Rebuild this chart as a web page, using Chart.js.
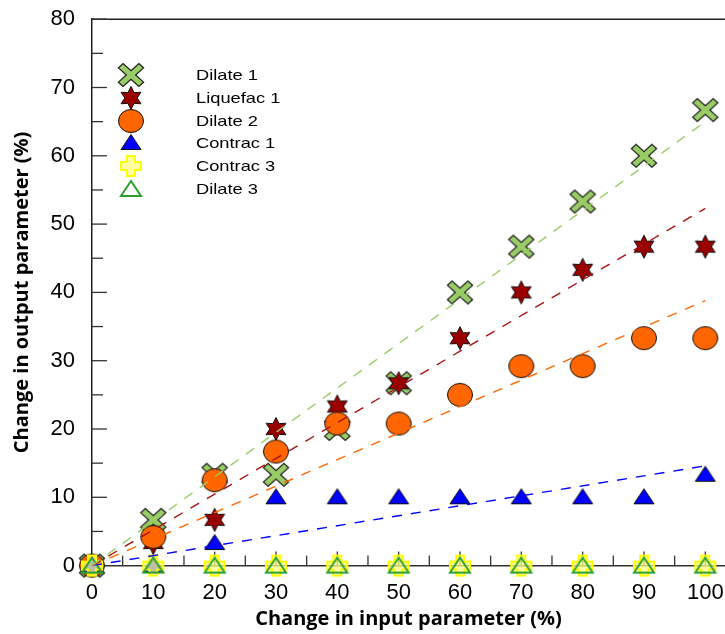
<!DOCTYPE html>
<html>
<head>
<meta charset="utf-8">
<script src="https://cdn.jsdelivr.net/npm/chart.js@4.4.1/dist/chart.umd.min.js"></script>
<style>
  html, body { margin: 0; padding: 0; background: #fff; overflow: hidden; }
  #wrap { width: 725px; height: 634px; overflow: hidden; }
</style>
</head>
<body>
<div id="wrap"><canvas id="myChart" width="738" height="634"></canvas></div>
<script>
// input change (%)
const xValues = [0, 10, 20, 30, 40, 50, 60, 70, 80, 90, 100];

// output change (%) per case
const dilate1   = [0, 6.7, 13.3, 13.3, 20, 26.7, 40, 46.7, 53.3, 60, 66.7];
const liquefac1 = [0, 3.3, 6.7, 20, 23.3, 26.7, 33.3, 40, 43.3, 46.7, 46.7];
const dilate2   = [0, 4.2, 12.5, 16.7, 20.8, 20.8, 25, 29.2, 29.2, 33.3, 33.3];
const contrac1  = [0, 0, 3.3, 10, 10, 10, 10, 10, 10, 10, 13.3];
const contrac3  = [0, 0, 0, 0, 0, 0, 0, 0, 0, 0, 0];
const dilate3   = [0, 0, 0, 0, 0, 0, 0, 0, 0, 0, 0];

// dashed trend lines (end points)
const trendX        = [0, 100];
const dilate1Trend  = [0, 65];
const liquef1Trend  = [0, 52.3];
const dilate2Trend  = [0, 38.8];
const contrac1Trend = [0, 14.6];

const seriesNames = ['Dilate 1', 'Liquefac 1', 'Dilate 2', 'Contrac 1', 'Contrac 3', 'Dilate 3'];
const yTicks = [0, 10, 20, 30, 40, 50, 60, 70, 80];

function toPts(xs, ys) {
    return xs.map((x, i) => ({ x: x, y: ys[i] }));
}

// marker images
function makeMarker(draw) {
    const c = document.createElement('canvas');
    c.width = 30;
    c.height = 30;
    const g = c.getContext('2d');
    g.translate(15, 15);
    draw(g);
    return c;
}

function crossPath(g, a, L, rot, sy) {
    const pts = [[a,-L],[a,-a],[L,-a],[L,a],[a,a],[a,L],[-a,L],[-a,a],[-L,a],[-L,-a],[-a,-a],[-a,-L]];
    g.beginPath();
    pts.forEach((p, i) => {
        const x = p[0] * Math.cos(rot) - p[1] * Math.sin(rot);
        const y = (p[0] * Math.sin(rot) + p[1] * Math.cos(rot)) * sy;
        if (i === 0) g.moveTo(x, y); else g.lineTo(x, y);
    });
    g.closePath();
}

const mkX = makeMarker(g => {
    crossPath(g, 3.3, 14.5, Math.PI / 4, 0.9);
    g.fillStyle = '#99cc66';
    g.fill();
    g.lineWidth = 1.2;
    g.strokeStyle = '#1a1a1a';
    g.stroke();
});

const mkStar = makeMarker(g => {
    g.beginPath();
    for (let i = 0; i < 12; i++) {
        const r = i % 2 === 0 ? 11.5 : 6.2;
        const ang = -Math.PI / 2 + i * Math.PI / 6;
        const x = r * Math.cos(ang), y = r * Math.sin(ang);
        if (i === 0) g.moveTo(x, y); else g.lineTo(x, y);
    }
    g.closePath();
    g.fillStyle = '#990000';
    g.fill();
    g.lineWidth = 1;
    g.strokeStyle = '#111';
    g.stroke();
});

const mkCircle = makeMarker(g => {
    g.beginPath();
    g.ellipse(0, 0, 12.5, 11.5, 0, 0, Math.PI * 2);
    g.fillStyle = '#ff6600';
    g.fill();
    g.lineWidth = 1;
    g.strokeStyle = '#111';
    g.stroke();
});

const mkTri = makeMarker(g => {
    g.beginPath();
    g.moveTo(0, -8.5);
    g.lineTo(10, 6.5);
    g.lineTo(-10, 6.5);
    g.closePath();
    g.fillStyle = '#0000ff';
    g.fill();
    g.lineWidth = 1;
    g.strokeStyle = '#111';
    g.stroke();
});

const mkPlus = makeMarker(g => {
    crossPath(g, 4, 10, 0, 1);
    g.fillStyle = 'rgba(255, 255, 130, 0.75)';
    g.fill();
    g.lineWidth = 2;
    g.strokeStyle = '#ffff00';
    g.stroke();
});

const mkTriOpen = makeMarker(g => {
    g.beginPath();
    g.moveTo(0, -8);
    g.lineTo(10, 7);
    g.lineTo(-10, 7);
    g.closePath();
    g.lineWidth = 2;
    g.strokeStyle = '#2ca02c';
    g.stroke();
});

const markers = [mkX, mkStar, mkCircle, mkTri, mkPlus, mkTriOpen];

function scatterSet(label, ys, marker, order) {
    return {
        label: label,
        data: toPts(xValues, ys),
        pointStyle: marker,
        pointRadius: 10,
        pointHoverRadius: 10,
        showLine: false,
        clip: false,
        order: order
    };
}

function trendSet(ys, color) {
    return {
        label: '',
        data: toPts(trendX, ys),
        showLine: true,
        borderColor: color,
        borderWidth: 1.4,
        borderDash: [10, 9],
        pointRadius: 0,
        fill: false,
        order: 0
    };
}

// inward tick marks + top frame line
const frameTicks = {
    id: 'frameTicks',
    beforeDatasetsDraw(chart) {
        const ctx = chart.ctx;
        const a = chart.chartArea;
        const xs = chart.scales.x, ys = chart.scales.y;
        ctx.save();
        ctx.strokeStyle = '#222';
        ctx.lineWidth = 1.5;
        ctx.beginPath();
        ctx.moveTo(a.left, a.top);
        ctx.lineTo(a.right, a.top);
        ctx.stroke();
        ctx.lineWidth = 1.3;
        ctx.strokeStyle = '#333';
        for (let v = 5; v <= 80; v += 5) {
            const py = ys.getPixelForValue(v);
            const len = v % 10 === 0 ? 15 : 11;
            ctx.beginPath();
            ctx.moveTo(a.left, py);
            ctx.lineTo(a.left + len, py);
            ctx.stroke();
        }
        for (let v = 5; v <= 100; v += 5) {
            const px = xs.getPixelForValue(v);
            const len = v % 10 === 0 ? 14 : 10;
            ctx.beginPath();
            ctx.moveTo(px, a.bottom);
            ctx.lineTo(px, a.bottom - len);
            ctx.stroke();
        }
        ctx.restore();
    }
};

// legend inside the plot (text is a bit wide in the original)
const innerLegend = {
    id: 'innerLegend',
    afterDraw(chart) {
        const ctx = chart.ctx;
        const rowY = [75, 98, 121, 143, 166, 189];
        ctx.save();
        ctx.font = '14.5px "Liberation Sans", Arial, sans-serif';
        ctx.fillStyle = '#000';
        ctx.textBaseline = 'middle';
        seriesNames.forEach((name, i) => {
            ctx.drawImage(markers[i], 131 - 15, rowY[i] - 15);
            ctx.save();
            ctx.translate(196, rowY[i] + 1);
            ctx.scale(1.26, 1);
            ctx.fillText(name, 0, 0);
            ctx.restore();
        });
        ctx.restore();
    }
};

const cht = document.getElementById('myChart').getContext('2d');

const myChart = new Chart(cht, {
    type: 'scatter',
    data: {
        datasets: [
            scatterSet(seriesNames[0], dilate1, mkX, 6),
            scatterSet(seriesNames[1], liquefac1, mkStar, 5),
            scatterSet(seriesNames[2], dilate2, mkCircle, 4),
            scatterSet(seriesNames[3], contrac1, mkTri, 3),
            scatterSet(seriesNames[4], contrac3, mkPlus, 2),
            scatterSet(seriesNames[5], dilate3, mkTriOpen, 1),
            trendSet(dilate1Trend, '#99cc66'),
            trendSet(liquef1Trend, '#aa1111'),
            trendSet(dilate2Trend, '#ff6600'),
            trendSet(contrac1Trend, '#0000ff')
        ]
    },
    options: {
        responsive: false,
        animation: false,
        layout: { padding: { top: 0, right: 0, bottom: 0, left: 0 } },
        plugins: {
            legend: { display: false },
            tooltip: { enabled: false }
        },
        scales: {
            x: {
                type: 'linear',
                min: 0,
                max: 103.2,
                afterBuildTicks: (scale) => {
                    scale.ticks = xValues.map(v => ({ value: v }));
                },
                grid: { display: false, drawTicks: false },
                border: { display: true, color: '#333', width: 1.5 },
                ticks: {
                    padding: 14,
                    color: '#000',
                    font: { family: '"Liberation Sans", Arial, sans-serif', size: 22 }
                },
                title: {
                    display: true,
                    text: 'Change in input parameter (%)',
                    color: '#000',
                    font: { family: '"Open Sans", sans-serif', size: 20, weight: 'bold' },
                    padding: { top: -13, bottom: 3 }
                }
            },
            y: {
                type: 'linear',
                min: 0,
                max: 80,
                afterBuildTicks: (scale) => {
                    scale.ticks = yTicks.map(v => ({ value: v }));
                },
                grid: {
                    display: true,
                    drawOnChartArea: false,
                    drawTicks: true,
                    tickLength: 11,
                    color: 'rgba(0,0,0,0)'
                },
                border: { display: true, color: '#222', width: 1.5 },
                ticks: {
                    padding: 6,
                    color: '#000',
                    font: { family: '"Liberation Sans", Arial, sans-serif', size: 22 }
                },
                title: {
                    display: true,
                    text: 'Change in output parameter (%)',
                    color: '#000',
                    font: { family: '"Open Sans", sans-serif', size: 20, weight: 'bold' },
                    padding: { top: 10, bottom: 10.5 }
                }
            }
        }
    },
    plugins: [frameTicks, innerLegend]
});
</script>
</body>
</html>
